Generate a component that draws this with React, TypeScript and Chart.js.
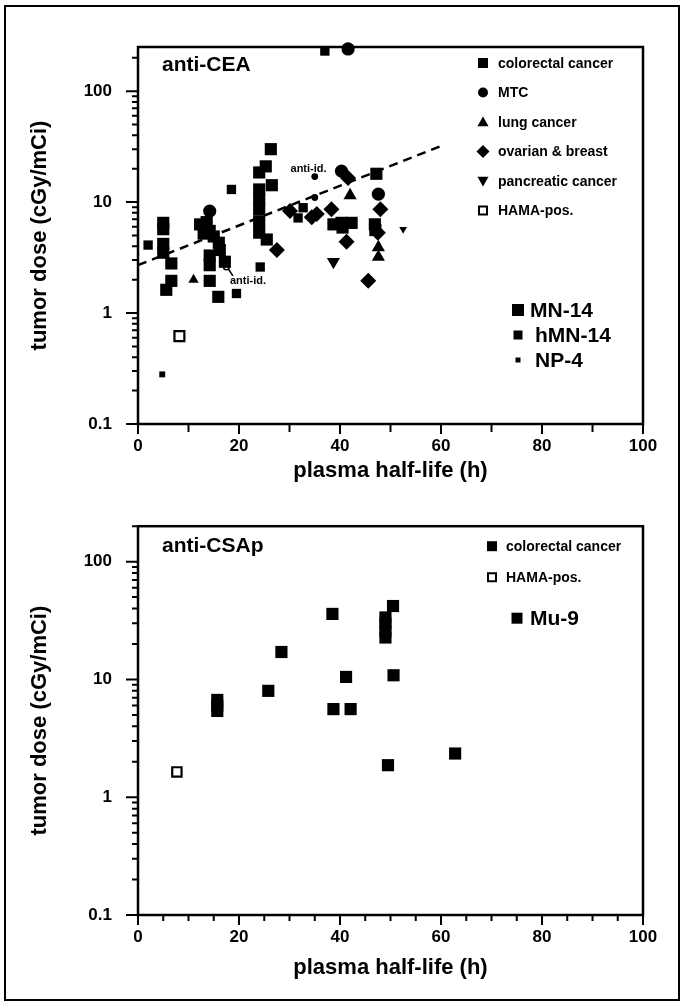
import React, { useEffect, useRef } from 'react';
import { Chart, registerables } from 'chart.js';
Chart.register(...registerables);

const FONT = "'Liberation Sans', Arial, sans-serif";

// ---------------- anti-CEA (top panel) ----------------
// antibody codes: L = MN-14, M = hMN-14, S = NP-4
const ceaColorectalX = [2, 5, 5, 5, 5, 6.6, 6.6, 5.6, 12.3, 13.6, 13, 14.2, 15, 16, 16.2, 14.2, 14.2, 17.2, 14.2, 15.9, 19.5, 18.5, 26.3, 25.3, 24, 26.5, 24, 24, 24, 24, 24, 25.5, 24.2, 32.7, 31.7, 37, 38.7, 40.3, 42.3, 40.5, 47.2, 46.9, 47, 4.8];
const ceaColorectalY = [4.1, 6.5, 5.7, 4.2, 3.5, 2.8, 1.95, 1.62, 6.3, 6.6, 5.2, 5.5, 4.9, 4.3, 3.7, 3.3, 2.7, 2.9, 1.95, 1.4, 1.5, 13, 30, 21, 18.5, 14.2, 13, 10.6, 8.6, 6.7, 5.3, 4.6, 2.6, 8.9, 7.2, 230, 6.3, 6.5, 6.5, 5.9, 18, 6.3, 5.6, 0.28];
const ceaColorectalAb = ['M', 'L', 'L', 'L', 'L', 'L', 'L', 'L', 'L', 'L', 'L', 'L', 'L', 'L', 'L', 'L', 'L', 'L', 'L', 'L', 'M', 'M', 'L', 'L', 'L', 'L', 'L', 'L', 'L', 'L', 'L', 'L', 'M', 'M', 'M', 'M', 'L', 'L', 'L', 'L', 'L', 'L', 'L', 'S'];

const ceaMtcX = [14.2, 40.3, 41.6, 47.6, 35, 35];
const ceaMtcY = [8.3, 19, 240, 11.8, 11, 17];
const ceaMtcAb = ['L', 'L', 'L', 'L', 'S', 'S'];

const ceaLungX = [11, 42, 47.6, 47.6];
const ceaLungY = [2.0, 11.5, 3.9, 3.2];
const ceaLungAb = ['M', 'L', 'L', 'L'];

const ceaOvarianX = [27.5, 30.1, 34.4, 35.4, 38.3, 41.3, 41.6, 48, 47.5, 45.6];
const ceaOvarianY = [3.7, 8.3, 7.3, 7.8, 8.6, 4.4, 16.5, 8.6, 5.3, 1.95];
const ceaOvarianAb = ['L', 'L', 'L', 'L', 'L', 'L', 'L', 'L', 'L', 'L'];

const ceaPancreaticX = [38.7, 52.5];
const ceaPancreaticY = [2.9, 5.7];
const ceaPancreaticAb = ['L', 'S'];

const ceaHamaX = [8.2];
const ceaHamaY = [0.62];

const ceaAntiIdX = [17.5];
const ceaAntiIdY = [2.6];

const ceaFitX = [0, 60];
const ceaFitY = [2.7, 32];

const ceaNotesX = [18.2, 30.2];
const ceaNotesY = [1.95, 20];
const ceaNotesText = ['anti-id.', 'anti-id.'];

const ceaLegendLabels = ['colorectal cancer', 'MTC', 'lung cancer', 'ovarian & breast', 'pancreatic cancer', 'HAMA-pos.'];
const ceaLegendShapes = ['rect', 'circle', 'tri', 'dia', 'inv', 'open'];
const ceaAbLabels = ['MN-14', 'hMN-14', 'NP-4'];
const ceaYMax = 250;

// ---------------- anti-CSAp (bottom panel) ----------------
const csapColorectalX = [15.7, 15.7, 15.7, 25.8, 28.4, 38.5, 38.7, 41.2, 42.1, 49, 49, 49, 49, 49.5, 50.5, 50.6, 62.8];
const csapColorectalY = [6.7, 6.0, 5.4, 8.0, 17.1, 36, 5.6, 10.5, 5.6, 33.6, 29.8, 25.9, 22.7, 1.87, 42, 10.85, 2.35];
const csapHamaX = [7.7];
const csapHamaY = [1.64];
const csapLegendLabels = ['colorectal cancer', 'HAMA-pos.'];
const csapLegendShapes = ['rect', 'open'];
const csapAbLabels = ['Mu-9'];
const csapYMax = 200;

// axes
const xMajorTicks = [0, 20, 40, 60, 80, 100];
const yMajorTicks = [0.1, 1, 10, 100];

// ---------- helpers ----------
const RAD: Record<string, Record<string, number>> = {
  rect: { L: 8.6, M: 6.6, S: 4.2 },
  circle: { L: 6.6, M: 5, S: 3.4 },
  triangle: { L: 7.6, M: 6, S: 4.5 },
  rectRot: { L: 8, M: 6, S: 4 },
};

function pts(xs: number[], ys: number[]) {
  return xs.map((x, i) => ({ x, y: ys[i] }));
}

function drawShape(ctx: CanvasRenderingContext2D, shape: string, x: number, y: number, s: number) {
  ctx.save();
  ctx.fillStyle = '#000';
  ctx.strokeStyle = '#000';
  ctx.beginPath();
  if (shape === 'rect') {
    ctx.rect(x - s / 2, y - s / 2, s, s);
    ctx.fill();
  } else if (shape === 'circle') {
    ctx.arc(x, y, s / 2, 0, Math.PI * 2);
    ctx.fill();
  } else if (shape === 'tri') {
    ctx.moveTo(x, y - s * 0.55);
    ctx.lineTo(x + s * 0.55, y + s * 0.42);
    ctx.lineTo(x - s * 0.55, y + s * 0.42);
    ctx.closePath();
    ctx.fill();
  } else if (shape === 'inv') {
    ctx.moveTo(x, y + s * 0.55);
    ctx.lineTo(x + s * 0.55, y - s * 0.42);
    ctx.lineTo(x - s * 0.55, y - s * 0.42);
    ctx.closePath();
    ctx.fill();
  } else if (shape === 'dia') {
    const h = s * 0.65;
    ctx.moveTo(x, y - h);
    ctx.lineTo(x + h, y);
    ctx.lineTo(x, y + h);
    ctx.lineTo(x - h, y);
    ctx.closePath();
    ctx.fill();
  } else if (shape === 'open') {
    ctx.lineWidth = 2;
    ctx.fillStyle = '#fff';
    ctx.rect(x - s / 2 + 1, y - s / 2 + 1, s - 2, s - 2);
    ctx.fill();
    ctx.stroke();
  }
  ctx.restore();
}

function yMinorValues(yMax: number) {
  const out: number[] = [];
  for (const d of [0.1, 1, 10, 100]) {
    for (let k = 1; k <= 9; k++) {
      const v = +(d * k).toPrecision(3);
      if (v <= yMax) out.push(v);
    }
  }
  return out;
}

function makeDeco(opts: {
  xStep: number;
  xMinorLen: number;
  yMax: number;
  drawExtra: (ctx: CanvasRenderingContext2D, chart: any) => void;
}) {
  return {
    id: 'deco',
    afterDraw(chart: any) {
      const { ctx, chartArea: a, scales } = chart;
      const xs = scales.x;
      const ys = scales.y;
      ctx.save();
      ctx.strokeStyle = '#000';
      ctx.lineWidth = 2.5;
      ctx.strokeRect(a.left, a.top, a.right - a.left, a.bottom - a.top);
      ctx.lineWidth = 2;
      ctx.beginPath();
      for (let v = 0; v <= 100; v += opts.xStep) {
        const px = xs.getPixelForValue(v);
        const len = v % 20 === 0 ? 10 : opts.xMinorLen;
        ctx.moveTo(px, a.bottom);
        ctx.lineTo(px, a.bottom + len);
      }
      for (const v of yMinorValues(opts.yMax)) {
        const py = ys.getPixelForValue(v);
        const major = yMajorTicks.some((m) => Math.abs(m - v) < 1e-9);
        const len = major ? 12 : 6;
        ctx.moveTo(a.left, py);
        ctx.lineTo(a.left - len, py);
      }
      ctx.stroke();
      opts.drawExtra(ctx, chart);
      ctx.restore();
    },
  };
}

function baseScales(titleBottomPad: number, xHeight: number, yMax: number) {
  return {
    x: {
      type: 'linear',
      min: 0,
      max: 100,
      grid: { display: false, drawTicks: false },
      border: { display: false },
      afterBuildTicks: (s: any) => {
        s.ticks = xMajorTicks.map((v) => ({ value: v }));
      },
      afterFit: (s: any) => {
        s.height = xHeight;
      },
      ticks: { color: '#000', padding: 12, font: { family: FONT, size: 17, weight: 'bold' } },
      title: {
        display: true,
        text: 'plasma half-life (h)',
        color: '#000',
        font: { family: FONT, size: 22, weight: 'bold' },
        padding: { top: 0, bottom: titleBottomPad },
      },
    },
    y: {
      type: 'logarithmic',
      min: 0.1,
      max: yMax,
      grid: { display: false, drawTicks: false },
      border: { display: false },
      afterBuildTicks: (s: any) => {
        s.ticks = yMajorTicks.map((v) => ({ value: v }));
      },
      afterFit: (s: any) => {
        s.width = 114;
      },
      ticks: {
        color: '#000',
        padding: 26,
        font: { family: FONT, size: 17, weight: 'bold' },
        callback: (v: any) => (v < 1 ? '0.1' : String(v)),
      },
      title: {
        display: true,
        text: 'tumor dose (cGy/mCi)',
        color: '#000',
        font: { family: FONT, size: 22, weight: 'bold' },
        padding: { top: 3, bottom: 0 },
      },
    },
  };
}

function scatterSet(xs: number[], ys: number[], style: string, radii: number[] | number, extra: any = {}) {
  return {
    type: 'scatter',
    data: pts(xs, ys),
    pointStyle: style,
    pointRadius: radii,
    pointHoverRadius: radii,
    backgroundColor: '#000',
    borderColor: '#000',
    borderWidth: 0,
    clip: false,
    ...extra,
  };
}

function TopChart() {
  const ref = useRef<HTMLCanvasElement>(null);
  useEffect(() => {
    if (!ref.current) return;
    const deco = makeDeco({
      xStep: 10,
      xMinorLen: 8,
      yMax: ceaYMax,
      drawExtra: (ctx, chart) => {
        const a = chart.chartArea;
        const xs = chart.scales.x;
        const ys = chart.scales.y;
        ctx.fillStyle = '#000';
        ctx.font = `bold 11px ${FONT}`;
        ctx.textBaseline = 'middle';
        ctx.textAlign = 'left';
        ceaNotesText.forEach((t, i) => {
          ctx.fillText(t, xs.getPixelForValue(ceaNotesX[i]), ys.getPixelForValue(ceaNotesY[i]));
        });
        ctx.lineWidth = 1.5;
        ctx.beginPath();
        ctx.moveTo(xs.getPixelForValue(ceaAntiIdX[0]) + 2, ys.getPixelForValue(ceaAntiIdY[0]) + 2);
        ctx.lineTo(xs.getPixelForValue(ceaNotesX[0]) + 3, ys.getPixelForValue(ceaNotesY[0]) - 5);
        ctx.stroke();
        ctx.font = `bold 21px ${FONT}`;
        ctx.fillText('anti-CEA', a.left + 24, a.top + 18);
        ctx.font = `bold 14px ${FONT}`;
        ceaLegendLabels.forEach((lab, i) => {
          const y = a.top + 16 + i * 29.5;
          drawShape(ctx, ceaLegendShapes[i], a.left + 345, y, 10);
          ctx.fillStyle = '#000';
          ctx.fillText(lab, a.left + 360, y + 1);
        });
        const sizes = [12, 9, 5];
        ctx.font = `bold 21px ${FONT}`;
        ceaAbLabels.forEach((lab, i) => {
          const y = a.top + 263 + i * 25;
          drawShape(ctx, 'rect', a.left + 380, y, sizes[i]);
          ctx.fillStyle = '#000';
          ctx.fillText(lab, a.left + 392 + (i > 0 ? 5 : 0), y + 1);
        });
      },
    });
    const chart = new Chart(ref.current, {
      type: 'scatter',
      data: {
        datasets: [
          {
            type: 'scatter',
            data: pts(ceaFitX, ceaFitY),
            showLine: true,
            borderColor: '#000',
            borderWidth: 2.5,
            borderDash: [9, 6],
            pointRadius: 0,
            fill: false,
          },
          scatterSet(ceaColorectalX, ceaColorectalY, 'rect', ceaColorectalAb.map((a) => RAD.rect[a])),
          scatterSet(ceaMtcX, ceaMtcY, 'circle', ceaMtcAb.map((a) => RAD.circle[a])),
          scatterSet(ceaLungX, ceaLungY, 'triangle', ceaLungAb.map((a) => RAD.triangle[a])),
          scatterSet(ceaOvarianX, ceaOvarianY, 'rectRot', ceaOvarianAb.map((a) => RAD.rectRot[a])),
          scatterSet(ceaPancreaticX, ceaPancreaticY, 'triangle', ceaPancreaticAb.map((a) => RAD.triangle[a]), { rotation: 180 }),
          scatterSet(ceaHamaX, ceaHamaY, 'rect', 7, { backgroundColor: '#fff', borderWidth: 2.2 }),
          scatterSet(ceaAntiIdX, ceaAntiIdY, 'circle', 2.8, { backgroundColor: '#fff', borderWidth: 1.6 }),
        ] as any,
      },
      options: {
        responsive: false,
        animation: false,
        events: [],
        layout: { padding: { left: 24, right: 40, top: 47, bottom: 0 } },
        plugins: { legend: { display: false }, tooltip: { enabled: false } },
        scales: baseScales(6, 66, ceaYMax) as any,
      },
      plugins: [deco],
    });
    return () => chart.destroy();
  }, []);
  return <canvas ref={ref} width={683} height={490} style={{ position: 'absolute', left: 0, top: 0 }} />;
}

function BottomChart() {
  const ref = useRef<HTMLCanvasElement>(null);
  useEffect(() => {
    if (!ref.current) return;
    const deco = makeDeco({
      xStep: 5,
      xMinorLen: 6,
      yMax: csapYMax,
      drawExtra: (ctx, chart) => {
        const a = chart.chartArea;
        ctx.fillStyle = '#000';
        ctx.textBaseline = 'middle';
        ctx.textAlign = 'left';
        ctx.font = `bold 21px ${FONT}`;
        ctx.fillText('anti-CSAp', a.left + 24, a.top + 20);
        ctx.font = `bold 14px ${FONT}`;
        csapLegendLabels.forEach((lab, i) => {
          const y = a.top + 20 + i * 31;
          drawShape(ctx, csapLegendShapes[i], a.left + 354, y, 10);
          ctx.fillStyle = '#000';
          ctx.fillText(lab, a.left + 368, y + 1);
        });
        ctx.font = `bold 21px ${FONT}`;
        csapAbLabels.forEach((lab, i) => {
          const y = a.top + 92 + i * 25;
          drawShape(ctx, 'rect', a.left + 379, y, 11);
          ctx.fillStyle = '#000';
          ctx.fillText(lab, a.left + 392, y + 1);
        });
      },
    });
    const chart = new Chart(ref.current, {
      type: 'scatter',
      data: {
        datasets: [
          scatterSet(csapColorectalX, csapColorectalY, 'rect', 8.6),
          scatterSet(csapHamaX, csapHamaY, 'rect', 6.6, { backgroundColor: '#fff', borderWidth: 2.2 }),
        ] as any,
      },
      options: {
        responsive: false,
        animation: false,
        events: [],
        layout: { padding: { left: 24, right: 40, top: 26, bottom: 0 } },
        plugins: { legend: { display: false }, tooltip: { enabled: false } },
        scales: baseScales(23, 89, csapYMax) as any,
      },
      plugins: [deco],
    });
    return () => chart.destroy();
  }, []);
  return <canvas ref={ref} width={683} height={514} style={{ position: 'absolute', left: 0, top: 490 }} />;
}

export default function App() {
  return (
    <div style={{ position: 'absolute', left: 0, top: 0, width: 683, height: 1004, background: '#fff' }}>
      <TopChart />
      <BottomChart />
      <div
        style={{
          position: 'absolute',
          left: 4,
          top: 5,
          width: 676,
          height: 996,
          border: '2px solid #000',
          boxSizing: 'border-box',
          pointerEvents: 'none',
        }}
      />
    </div>
  );
}
